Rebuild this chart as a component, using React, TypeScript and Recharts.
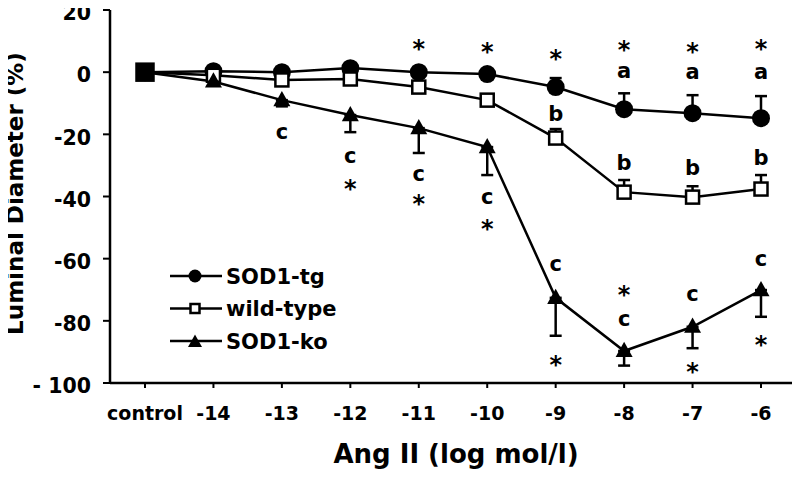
import React from 'react';
import { ComposedChart, Line, XAxis, YAxis, ErrorBar, ReferenceDot, Legend, Label } from 'recharts';

const FONT = '"DejaVu Sans", sans-serif';

const categories = ['control', '-14', '-13', '-12', '-11', '-10', '-9', '-8', '-7', '-6'];
const sod1tg = [0, 0.3, 0, 1.3, 0, -0.6, -4.8, -11.9, -13.2, -14.8];
const sod1tgErr = [0, 0, 0, 0, 0, 0, 2.9, 5.1, 5.8, 7.1];
const wildType = [0, -1, -2.5, -2.2, -4.8, -9, -21.2, -38.6, -40.2, -37.6];
const wildTypeErr = [0, 0, 0, 0, 0, 0, 2.9, 3.9, 3.5, 4.5];
const sod1ko = [0, -3, -9, -13.8, -18, -24.1, -72.6, -89.7, -81.9, -70.1];
const sod1koErr = [0, 0, 2, 5.5, 8, 9, 12.2, 4.7, 6.9, 8.6];

const yTicks = [20, 0, -20, -40, -60, -80, -100];
const yTickLabels = ['20', '0', '-20', '-40', '-60', '-80', '- 100'];

const annotations = [
  { x: '-13', y: -19.7, t: 'c' },
  { x: '-12', y: -27.3, t: 'c' },
  { x: '-12', y: -35.4, t: '*' },
  { x: '-11', y: 9.7, t: '*' },
  { x: '-11', y: -33.1, t: 'c' },
  { x: '-11', y: -40.2, t: '*' },
  { x: '-10', y: 8.7, t: '*' },
  { x: '-10', y: -40.5, t: 'c' },
  { x: '-10', y: -48.3, t: '*' },
  { x: '-9', y: 6.5, t: '*' },
  { x: '-9', y: -13.2, t: 'b' },
  { x: '-9', y: -62, t: 'c' },
  { x: '-9', y: -92, t: '*' },
  { x: '-8', y: 9.4, t: '*' },
  { x: '-8', y: 0, t: 'a' },
  { x: '-8', y: -28.9, t: 'b' },
  { x: '-8', y: -69.5, t: '*' },
  { x: '-8', y: -79.7, t: 'c' },
  { x: '-7', y: 8.7, t: '*' },
  { x: '-7', y: -0.3, t: 'a' },
  { x: '-7', y: -30.5, t: 'b' },
  { x: '-7', y: -71.7, t: 'c' },
  { x: '-7', y: -94.2, t: '*' },
  { x: '-6', y: 9.7, t: '*' },
  { x: '-6', y: -0.3, t: 'a' },
  { x: '-6', y: -27.3, t: 'b' },
  { x: '-6', y: -60.4, t: 'c' },
  { x: '-6', y: -85.6, t: '*' },
];

const seriesOrder = ['tg', 'wt', 'ko'];
const seriesNames = { tg: 'SOD1-tg', wt: 'wild-type', ko: 'SOD1-ko' };

const data = categories.map((c, i) => ({
  x: c,
  tg: sod1tg[i],
  tgE: sod1tgErr[i] ? [0, sod1tgErr[i]] : null,
  wt: wildType[i],
  wtE: wildTypeErr[i] ? [0, wildTypeErr[i]] : null,
  ko: sod1ko[i],
  koE: sod1koErr[i] ? [sod1koErr[i], 0] : null,
}));

const Circle = ({ cx, cy, r = 9 }: any) => <circle cx={cx} cy={cy} r={r} fill="#000" stroke="none" />;
const Square = ({ cx, cy, s = 13, fill = '#fff' }: any) => (
  <rect x={cx - s / 2} y={cy - s / 2} width={s} height={s} fill={fill} stroke="#000" strokeWidth={2.5} />
);
const Triangle = ({ cx, cy, s = 17 }: any) => {
  const h = s * 0.9;
  return (
    <path
      d={`M${cx},${cy - h * 0.6} L${cx + s / 2},${cy + h * 0.4} L${cx - s / 2},${cy + h * 0.4} Z`}
      fill="#000"
    />
  );
};

const renderDot = (kind: string) => (props: any) => {
  const { cx, cy, index } = props;
  if (cx == null || cy == null) return <g key={`${kind}-${index}`} />;
  if (kind === 'tg') return <Circle key={`${kind}-${index}`} cx={cx} cy={cy} />;
  if (kind === 'wt')
    return <Square key={`${kind}-${index}`} cx={cx} cy={cy} fill={index === 0 ? '#000' : '#fff'} s={index === 0 ? 17 : 13} />;
  return <Triangle key={`${kind}-${index}`} cx={cx} cy={cy} />;
};

const glyphDy: Record<string, string> = { '*': '0.62em', a: '0.27em', b: '0.37em', c: '0.27em' };

const annotationShape = (t: string) => (props: any) => {
  const { cx, cy } = props;
  return (
    <text
      x={cx}
      y={cy}
      dy={glyphDy[t]}
      textAnchor="middle"
      fontFamily={FONT}
      fontWeight="bold"
      fontSize={t === '*' ? 24 : 21}
      fill="#000"
    >
      {t}
    </text>
  );
};

const YTick = (props: any) => {
  const { x, y, payload } = props;
  const idx = yTicks.indexOf(payload.value);
  return (
    <text
      x={x}
      y={y + 3}
      dy="0.355em"
      textAnchor="end"
      fontFamily={FONT}
      fontWeight="bold"
      fontSize={20.5}
      fill="#000"
    >
      {idx >= 0 ? yTickLabels[idx] : payload.value}
    </text>
  );
};

const renderLegend = (props: any) => {
  const payload = [...(props.payload || [])].sort(
    (a: any, b: any) => seriesOrder.indexOf(a.dataKey) - seriesOrder.indexOf(b.dataKey)
  );
  return (
    <svg width={220} height={100} style={{ display: 'block' }}>
      {payload.map((entry: any, i: number) => {
        const y = 12 + i * 32.5;
        const k = entry.dataKey;
        return (
          <g key={k}>
            <line x1={2} x2={54} y1={y} y2={y} stroke="#000" strokeWidth={2.5} />
            {k === 'tg' && <Circle cx={27} cy={y} r={6.5} />}
            {k === 'wt' && <Square cx={27} cy={y} s={9} />}
            {k === 'ko' && <Triangle cx={27} cy={y + 1} s={14} />}
            <text x={58} y={y} dy="0.36em" fontFamily={FONT} fontWeight="bold" fontSize={21} fill="#000">
              {entry.value}
            </text>
          </g>
        );
      })}
    </svg>
  );
};

const YLabel = (props: any) => {
  const { viewBox } = props;
  const cx = viewBox.x + 23;
  const cy = viewBox.y + viewBox.height / 2 - 3;
  return (
    <text
      x={cx}
      y={cy}
      transform={`rotate(-90, ${cx}, ${cy})`}
      textAnchor="middle"
      fontFamily={FONT}
      fontWeight="bold"
      fontSize={23}
      fill="#000"
    >
      Luminal Diameter (%)
    </text>
  );
};

const XLabel = (props: any) => {
  const { viewBox } = props;
  return (
    <text
      x={viewBox.x + viewBox.width / 2 + 4}
      y={viewBox.y + 80}
      textAnchor="middle"
      fontFamily={FONT}
      fontWeight="bold"
      fontSize={26}
      fill="#000"
    >
      Ang II (log mol/l)
    </text>
  );
};

export default function App() {
  return (
    <div style={{ width: 800, height: 478, margin: '-8px 0 0 -8px' }}>
      <ComposedChart width={800} height={478} data={data} margin={{ top: 10, right: 6, bottom: 0, left: 0 }}>
        <XAxis
          dataKey="x"
          type="category"
          height={95}
          padding={{ left: 35, right: 33 }}
          axisLine={{ stroke: '#000', strokeWidth: 2.5 }}
          tickLine={{ stroke: '#000', strokeWidth: 2 }}
          tickSize={5}
          tickMargin={19}
          interval={0}
          tick={{ fill: '#000', fontSize: 19, fontWeight: 'bold', fontFamily: FONT }}
        >
          <Label content={XLabel} />
        </XAxis>
        <YAxis
          type="number"
          domain={[-100, 20]}
          ticks={yTicks}
          interval={0}
          width={110}
          axisLine={{ stroke: '#000', strokeWidth: 2.5 }}
          tickLine={{ stroke: '#000', strokeWidth: 2 }}
          tickSize={7}
          tickMargin={12}
          tick={YTick}
        >
          <Label content={YLabel} />
        </YAxis>
        <Legend
          layout="vertical"
          align="center"
          verticalAlign="middle"
          content={renderLegend}
          wrapperStyle={{ left: 168, top: 264, width: 220, height: 100 }}
        />
        <Line
          dataKey="tg"
          name={seriesNames.tg}
          stroke="#000"
          strokeWidth={2.5}
          dot={renderDot('tg')}
          activeDot={false}
          isAnimationActive={false}
        >
          <ErrorBar dataKey="tgE" direction="y" width={6} stroke="#000" strokeWidth={2.5} />
        </Line>
        <Line
          dataKey="wt"
          name={seriesNames.wt}
          stroke="#000"
          strokeWidth={2.5}
          dot={renderDot('wt')}
          activeDot={false}
          isAnimationActive={false}
        >
          <ErrorBar dataKey="wtE" direction="y" width={6} stroke="#000" strokeWidth={2.5} />
        </Line>
        <Line
          dataKey="ko"
          name={seriesNames.ko}
          stroke="#000"
          strokeWidth={2.5}
          dot={renderDot('ko')}
          activeDot={false}
          isAnimationActive={false}
        >
          <ErrorBar dataKey="koE" direction="y" width={6} stroke="#000" strokeWidth={2.5} />
        </Line>
        {annotations.map((a, i) => (
          <ReferenceDot key={i} x={a.x} y={a.y} r={0} shape={annotationShape(a.t)} ifOverflow="visible" />
        ))}
      </ComposedChart>
    </div>
  );
}
